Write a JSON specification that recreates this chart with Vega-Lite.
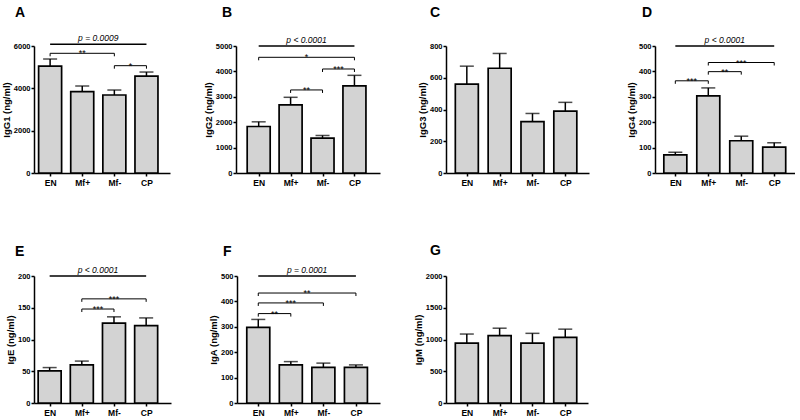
{
  "$schema": "https://vega.github.io/schema/vega-lite/v6.json",
  "padding": {"left": 1, "top": 6, "right": 0, "bottom": 0},
  "background": "white",
  "config": {
    "view": {"stroke": null},
    "axis": {"grid": false, "labelOverlap": false, "domainColor": "black", "domainWidth": 1.5, "tickColor": "black", "tickWidth": 1.5, "tickSize": 3, "labelFont": "Liberation Sans", "labelFontWeight": "bold", "labelColor": "black", "labelFontSize": 7.5, "labelPadding": 1, "titleFont": "Liberation Sans", "titleFontWeight": "bold", "titleFontSize": 9.5, "titleColor": "black", "titlePadding": 2},
    "axisX": {"labelFontSize": 8.5, "labelPadding": 2},
    "title": {"font": "Liberation Sans", "fontSize": 14, "fontWeight": "bold", "anchor": "start", "frame": "group", "color": "black", "baseline": "alphabetic"}
  },
  "datasets": {
    "bars": [
      {"panel": "A", "group": "EN", "idx": 0, "mean": 5050, "upper": 5385},
      {"panel": "A", "group": "Mf+", "idx": 1, "mean": 3840, "upper": 4110},
      {"panel": "A", "group": "Mf-", "idx": 2, "mean": 3685, "upper": 3920},
      {"panel": "A", "group": "CP", "idx": 3, "mean": 4580, "upper": 4770},
      {"panel": "B", "group": "EN", "idx": 0, "mean": 1830, "upper": 2015},
      {"panel": "B", "group": "Mf+", "idx": 1, "mean": 2680, "upper": 2980},
      {"panel": "B", "group": "Mf-", "idx": 2, "mean": 1375, "upper": 1477},
      {"panel": "B", "group": "CP", "idx": 3, "mean": 3430, "upper": 3845},
      {"panel": "C", "group": "EN", "idx": 0, "mean": 560, "upper": 673},
      {"panel": "C", "group": "Mf+", "idx": 1, "mean": 660, "upper": 753},
      {"panel": "C", "group": "Mf-", "idx": 2, "mean": 324, "upper": 375},
      {"panel": "C", "group": "CP", "idx": 3, "mean": 390, "upper": 445},
      {"panel": "D", "group": "EN", "idx": 0, "mean": 71, "upper": 82},
      {"panel": "D", "group": "Mf+", "idx": 1, "mean": 304, "upper": 335},
      {"panel": "D", "group": "Mf-", "idx": 2, "mean": 127, "upper": 145},
      {"panel": "D", "group": "CP", "idx": 3, "mean": 102, "upper": 119},
      {"panel": "E", "group": "EN", "idx": 0, "mean": 50.6, "upper": 55.8},
      {"panel": "E", "group": "Mf+", "idx": 1, "mean": 60, "upper": 66},
      {"panel": "E", "group": "Mf-", "idx": 2, "mean": 125.8, "upper": 135.7},
      {"panel": "E", "group": "CP", "idx": 3, "mean": 122, "upper": 134},
      {"panel": "F", "group": "EN", "idx": 0, "mean": 298, "upper": 329},
      {"panel": "F", "group": "Mf+", "idx": 1, "mean": 150, "upper": 163},
      {"panel": "F", "group": "Mf-", "idx": 2, "mean": 140, "upper": 157},
      {"panel": "F", "group": "CP", "idx": 3, "mean": 140, "upper": 150},
      {"panel": "G", "group": "EN", "idx": 0, "mean": 943, "upper": 1086},
      {"panel": "G", "group": "Mf+", "idx": 1, "mean": 1061, "upper": 1178},
      {"panel": "G", "group": "Mf-", "idx": 2, "mean": 943, "upper": 1097},
      {"panel": "G", "group": "CP", "idx": 3, "mean": 1035, "upper": 1163}
    ],
    "brackets": [
      {"panel": "A", "id": "A0", "kind": "p", "label": "p = 0.0009", "idx": 0, "y": 6080},
      {"panel": "A", "id": "A0", "kind": "p", "label": "p = 0.0009", "idx": 3, "y": 6080},
      {"panel": "A", "id": "A1", "kind": "s", "label": "**", "idx": 0, "y": 5655},
      {"panel": "A", "id": "A1", "kind": "s", "label": "**", "idx": 2, "y": 5655},
      {"panel": "A", "id": "A2", "kind": "s", "label": "*", "idx": 2, "y": 5070},
      {"panel": "A", "id": "A2", "kind": "s", "label": "*", "idx": 3, "y": 5070},
      {"panel": "B", "id": "B0", "kind": "p", "label": "p < 0.0001", "idx": 0, "y": 5000},
      {"panel": "B", "id": "B0", "kind": "p", "label": "p < 0.0001", "idx": 3, "y": 5000},
      {"panel": "B", "id": "B1", "kind": "s", "label": "*", "idx": 0, "y": 4555},
      {"panel": "B", "id": "B1", "kind": "s", "label": "*", "idx": 3, "y": 4555},
      {"panel": "B", "id": "B2", "kind": "s", "label": "***", "idx": 2, "y": 4095},
      {"panel": "B", "id": "B2", "kind": "s", "label": "***", "idx": 3, "y": 4095},
      {"panel": "B", "id": "B3", "kind": "s", "label": "**", "idx": 1, "y": 3270},
      {"panel": "B", "id": "B3", "kind": "s", "label": "**", "idx": 2, "y": 3270},
      {"panel": "D", "id": "D0", "kind": "p", "label": "p < 0.0001", "idx": 0, "y": 500},
      {"panel": "D", "id": "D0", "kind": "p", "label": "p < 0.0001", "idx": 3, "y": 500},
      {"panel": "D", "id": "D1", "kind": "s", "label": "***", "idx": 1, "y": 435},
      {"panel": "D", "id": "D1", "kind": "s", "label": "***", "idx": 3, "y": 435},
      {"panel": "D", "id": "D2", "kind": "s", "label": "**", "idx": 1, "y": 399},
      {"panel": "D", "id": "D2", "kind": "s", "label": "**", "idx": 2, "y": 399},
      {"panel": "D", "id": "D3", "kind": "s", "label": "***", "idx": 0, "y": 363},
      {"panel": "D", "id": "D3", "kind": "s", "label": "***", "idx": 1, "y": 363},
      {"panel": "E", "id": "E0", "kind": "p", "label": "p < 0.0001", "idx": 0, "y": 200},
      {"panel": "E", "id": "E0", "kind": "p", "label": "p < 0.0001", "idx": 3, "y": 200},
      {"panel": "E", "id": "E1", "kind": "s", "label": "***", "idx": 1, "y": 164},
      {"panel": "E", "id": "E1", "kind": "s", "label": "***", "idx": 3, "y": 164},
      {"panel": "E", "id": "E2", "kind": "s", "label": "***", "idx": 1, "y": 148},
      {"panel": "E", "id": "E2", "kind": "s", "label": "***", "idx": 2, "y": 148},
      {"panel": "F", "id": "F0", "kind": "p", "label": "p = 0.0001", "idx": 0, "y": 500},
      {"panel": "F", "id": "F0", "kind": "p", "label": "p = 0.0001", "idx": 3, "y": 500},
      {"panel": "F", "id": "F1", "kind": "s", "label": "**", "idx": 0, "y": 433},
      {"panel": "F", "id": "F1", "kind": "s", "label": "**", "idx": 3, "y": 433},
      {"panel": "F", "id": "F2", "kind": "s", "label": "***", "idx": 0, "y": 394},
      {"panel": "F", "id": "F2", "kind": "s", "label": "***", "idx": 2, "y": 394},
      {"panel": "F", "id": "F3", "kind": "s", "label": "**", "idx": 0, "y": 352},
      {"panel": "F", "id": "F3", "kind": "s", "label": "**", "idx": 1, "y": 352}
    ]
  },
  "bounds": "flush",
  "spacing": 230,
  "vconcat": [
    {
      "bounds": "flush",
      "spacing": 66,
      "hconcat": [
        {
          "width": 136, "height": 127,
          "title": {"text": "A", "dx": -19, "offset": 14},
          "layer": [
            {"data": {"name": "bars"}, "transform": [{"filter": "datum.panel == 'A'"}],
             "layer": [
              {"mark": {"type": "bar", "orient": "vertical", "width": 23, "fill": "#d3d3d3", "stroke": "black", "strokeWidth": 1.7},
               "encoding": {
                 "x": {"field": "idx", "type": "quantitative", "scale": {"domain": [-0.346, 3.577], "nice": false, "zero": false}, "axis": {"values": [0, 1, 2, 3], "tickCount": 20, "labelExpr": "['EN','Mf+','Mf-','CP'][datum.value]", "title": null}},
                 "y": {"field": "mean", "type": "quantitative", "scale": {"domain": [0, 6000], "nice": false}, "axis": {"values": [0, 2000, 4000, 6000], "tickCount": 20, "labelOverlap": false, "labelBound": false, "labelFlush": false, "format": "d", "title": "IgG1 (ng/ml)"}}}},
              {"mark": {"type": "rule", "strokeWidth": 1.5, "color": "black"},
               "encoding": {"x": {"field": "idx", "type": "quantitative"}, "y": {"field": "mean", "type": "quantitative"}, "y2": {"field": "upper"}}},
              {"mark": {"type": "tick", "orient": "horizontal", "size": 14, "thickness": 1.5, "color": "black"},
               "encoding": {"x": {"field": "idx", "type": "quantitative"}, "y": {"field": "upper", "type": "quantitative"}}}
             ]},
            {"data": {"name": "brackets"}, "transform": [{"filter": "datum.panel == 'A'"}],
             "layer": [
              {"transform": [{"filter": "datum.kind == 's'"}],
               "mark": {"type": "rule", "color": "black", "strokeWidth": 1, "y2Offset": 3},
               "encoding": {"x": {"field": "idx", "type": "quantitative"}, "y": {"field": "y", "type": "quantitative"}, "y2": {"field": "y"}}},
              {"transform": [{"aggregate": [{"op": "min", "field": "idx", "as": "x1"}, {"op": "max", "field": "idx", "as": "x2"}, {"op": "mean", "field": "idx", "as": "xm"}], "groupby": ["id", "y", "label", "kind"]}],
               "layer": [
                {"mark": {"type": "rule", "color": "black"},
                 "encoding": {"x": {"field": "x1", "type": "quantitative"}, "x2": {"field": "x2"}, "y": {"field": "y", "type": "quantitative"}, "strokeWidth": {"condition": {"test": "datum.kind == 'p'", "value": 1.5}, "value": 1}}},
                {"transform": [{"filter": "datum.kind == 'p'"}],
                 "mark": {"type": "text", "font": "Liberation Sans", "fontStyle": "italic", "fontSize": 8.5, "baseline": "alphabetic", "dy": -3, "color": "black"},
                 "encoding": {"x": {"field": "xm", "type": "quantitative"}, "y": {"field": "y", "type": "quantitative"}, "text": {"field": "label"}}},
                {"transform": [{"filter": "datum.kind == 's'"}],
                 "mark": {"type": "text", "font": "Liberation Sans", "fontSize": 9, "baseline": "alphabetic", "dy": 3, "color": "black"},
                 "encoding": {"x": {"field": "xm", "type": "quantitative"}, "y": {"field": "y", "type": "quantitative"}, "text": {"field": "label"}}}
               ]}
             ]}
          ]
        },
        {
          "width": 144, "height": 127,
          "title": {"text": "B", "dx": -14, "offset": 15.7},
          "layer": [
            {"data": {"name": "bars"}, "transform": [{"filter": "datum.panel == 'B'"}],
             "layer": [
              {"mark": {"type": "bar", "orient": "vertical", "width": 23, "fill": "#d3d3d3", "stroke": "black", "strokeWidth": 1.7},
               "encoding": {
                 "x": {"field": "idx", "type": "quantitative", "scale": {"domain": [-0.554, 3.644], "nice": false, "zero": false}, "axis": {"values": [0, 1, 2, 3], "tickCount": 20, "labelExpr": "['EN','Mf+','Mf-','CP'][datum.value]", "title": null}},
                 "y": {"field": "mean", "type": "quantitative", "scale": {"domain": [0, 5000], "nice": false}, "axis": {"values": [0, 1000, 2000, 3000, 4000, 5000], "tickCount": 20, "format": "d", "title": "IgG2 (ng/ml)"}}}},
              {"mark": {"type": "rule", "strokeWidth": 1.5, "color": "black"},
               "encoding": {"x": {"field": "idx", "type": "quantitative"}, "y": {"field": "mean", "type": "quantitative"}, "y2": {"field": "upper"}}},
              {"mark": {"type": "tick", "orient": "horizontal", "size": 14, "thickness": 1.5, "color": "black"},
               "encoding": {"x": {"field": "idx", "type": "quantitative"}, "y": {"field": "upper", "type": "quantitative"}}}
             ]},
            {"data": {"name": "brackets"}, "transform": [{"filter": "datum.panel == 'B'"}],
             "layer": [
              {"transform": [{"filter": "datum.kind == 's'"}],
               "mark": {"type": "rule", "color": "black", "strokeWidth": 1, "y2Offset": 3},
               "encoding": {"x": {"field": "idx", "type": "quantitative"}, "y": {"field": "y", "type": "quantitative"}, "y2": {"field": "y"}}},
              {"transform": [{"aggregate": [{"op": "min", "field": "idx", "as": "x1"}, {"op": "max", "field": "idx", "as": "x2"}, {"op": "mean", "field": "idx", "as": "xm"}], "groupby": ["id", "y", "label", "kind"]}],
               "layer": [
                {"mark": {"type": "rule", "color": "black"},
                 "encoding": {"x": {"field": "x1", "type": "quantitative"}, "x2": {"field": "x2"}, "y": {"field": "y", "type": "quantitative"}, "strokeWidth": {"condition": {"test": "datum.kind == 'p'", "value": 1.5}, "value": 1}}},
                {"transform": [{"filter": "datum.kind == 'p'"}],
                 "mark": {"type": "text", "font": "Liberation Sans", "fontStyle": "italic", "fontSize": 8.5, "baseline": "alphabetic", "dy": -3, "color": "black"},
                 "encoding": {"x": {"field": "xm", "type": "quantitative"}, "y": {"field": "y", "type": "quantitative"}, "text": {"field": "label"}}},
                {"transform": [{"filter": "datum.kind == 's'"}],
                 "mark": {"type": "text", "font": "Liberation Sans", "fontSize": 9, "baseline": "alphabetic", "dy": 3, "color": "black"},
                 "encoding": {"x": {"field": "xm", "type": "quantitative"}, "y": {"field": "y", "type": "quantitative"}, "text": {"field": "label"}}}
               ]}
             ]}
          ]
        },
        {
          "width": 143, "height": 127,
          "title": {"text": "C", "dx": -16, "offset": 22},
          "data": {"name": "bars"}, "transform": [{"filter": "datum.panel == 'C'"}],
          "layer": [
            {"mark": {"type": "bar", "orient": "vertical", "width": 23, "fill": "#d3d3d3", "stroke": "black", "strokeWidth": 1.7},
             "encoding": {
               "x": {"field": "idx", "type": "quantitative", "scale": {"domain": [-0.482, 3.569], "nice": false, "zero": false}, "axis": {"values": [0, 1, 2, 3], "tickCount": 20, "labelExpr": "['EN','Mf+','Mf-','CP'][datum.value]", "title": null}},
               "y": {"field": "mean", "type": "quantitative", "scale": {"domain": [0, 800], "nice": false}, "axis": {"values": [0, 200, 400, 600, 800], "tickCount": 20, "format": "d", "title": "IgG3 (ng/ml)"}}}},
            {"mark": {"type": "rule", "strokeWidth": 1.5, "color": "black"},
             "encoding": {"x": {"field": "idx", "type": "quantitative"}, "y": {"field": "mean", "type": "quantitative"}, "y2": {"field": "upper"}}},
            {"mark": {"type": "tick", "orient": "horizontal", "size": 14, "thickness": 1.5, "color": "black"},
             "encoding": {"x": {"field": "idx", "type": "quantitative"}, "y": {"field": "upper", "type": "quantitative"}}}
          ]
        },
        {
          "width": 140, "height": 127,
          "title": {"text": "D", "dx": -13, "offset": 15.7},
          "layer": [
            {"data": {"name": "bars"}, "transform": [{"filter": "datum.panel == 'D'"}],
             "layer": [
              {"mark": {"type": "bar", "orient": "vertical", "width": 23, "fill": "#d3d3d3", "stroke": "black", "strokeWidth": 1.7},
               "encoding": {
                 "x": {"field": "idx", "type": "quantitative", "scale": {"domain": [-0.465, 3.479], "nice": false, "zero": false}, "axis": {"values": [0, 1, 2, 3], "tickCount": 20, "labelExpr": "['EN','Mf+','Mf-','CP'][datum.value]", "title": null}},
                 "y": {"field": "mean", "type": "quantitative", "scale": {"domain": [0, 500], "nice": false}, "axis": {"values": [0, 100, 200, 300, 400, 500], "tickCount": 20, "format": "d", "title": "IgG4 (ng/ml)"}}}},
              {"mark": {"type": "rule", "strokeWidth": 1.5, "color": "black"},
               "encoding": {"x": {"field": "idx", "type": "quantitative"}, "y": {"field": "mean", "type": "quantitative"}, "y2": {"field": "upper"}}},
              {"mark": {"type": "tick", "orient": "horizontal", "size": 14, "thickness": 1.5, "color": "black"},
               "encoding": {"x": {"field": "idx", "type": "quantitative"}, "y": {"field": "upper", "type": "quantitative"}}}
             ]},
            {"data": {"name": "brackets"}, "transform": [{"filter": "datum.panel == 'D'"}],
             "layer": [
              {"transform": [{"filter": "datum.kind == 's'"}],
               "mark": {"type": "rule", "color": "black", "strokeWidth": 1, "y2Offset": 3},
               "encoding": {"x": {"field": "idx", "type": "quantitative"}, "y": {"field": "y", "type": "quantitative"}, "y2": {"field": "y"}}},
              {"transform": [{"aggregate": [{"op": "min", "field": "idx", "as": "x1"}, {"op": "max", "field": "idx", "as": "x2"}, {"op": "mean", "field": "idx", "as": "xm"}], "groupby": ["id", "y", "label", "kind"]}],
               "layer": [
                {"mark": {"type": "rule", "color": "black"},
                 "encoding": {"x": {"field": "x1", "type": "quantitative"}, "x2": {"field": "x2"}, "y": {"field": "y", "type": "quantitative"}, "strokeWidth": {"condition": {"test": "datum.kind == 'p'", "value": 1.5}, "value": 1}}},
                {"transform": [{"filter": "datum.kind == 'p'"}],
                 "mark": {"type": "text", "font": "Liberation Sans", "fontStyle": "italic", "fontSize": 8.5, "baseline": "alphabetic", "dy": -3, "color": "black"},
                 "encoding": {"x": {"field": "xm", "type": "quantitative"}, "y": {"field": "y", "type": "quantitative"}, "text": {"field": "label"}}},
                {"transform": [{"filter": "datum.kind == 's'"}],
                 "mark": {"type": "text", "font": "Liberation Sans", "fontSize": 9, "baseline": "alphabetic", "dy": 3, "color": "black"},
                 "encoding": {"x": {"field": "xm", "type": "quantitative"}, "y": {"field": "y", "type": "quantitative"}, "text": {"field": "label"}}}
               ]}
             ]}
          ]
        }
      ]
    },
    {
      "bounds": "flush",
      "spacing": 66,
      "hconcat": [
        {
          "width": 137, "height": 127,
          "title": {"text": "E", "dx": -19, "offset": 7.4},
          "layer": [
            {"data": {"name": "bars"}, "transform": [{"filter": "datum.panel == 'E'"}],
             "layer": [
              {"mark": {"type": "bar", "orient": "vertical", "width": 23, "fill": "#d3d3d3", "stroke": "black", "strokeWidth": 1.7},
               "encoding": {
                 "x": {"field": "idx", "type": "quantitative", "scale": {"domain": [-0.331, 3.617], "nice": false, "zero": false}, "axis": {"values": [0, 1, 2, 3], "tickCount": 20, "labelExpr": "['EN','Mf+','Mf-','CP'][datum.value]", "title": null}},
                 "y": {"field": "mean", "type": "quantitative", "scale": {"domain": [0, 200], "nice": false}, "axis": {"values": [0, 50, 100, 150, 200], "tickCount": 20, "format": "d", "title": "IgE (ng/ml)"}}}},
              {"mark": {"type": "rule", "strokeWidth": 1.5, "color": "black"},
               "encoding": {"x": {"field": "idx", "type": "quantitative"}, "y": {"field": "mean", "type": "quantitative"}, "y2": {"field": "upper"}}},
              {"mark": {"type": "tick", "orient": "horizontal", "size": 14, "thickness": 1.5, "color": "black"},
               "encoding": {"x": {"field": "idx", "type": "quantitative"}, "y": {"field": "upper", "type": "quantitative"}}}
             ]},
            {"data": {"name": "brackets"}, "transform": [{"filter": "datum.panel == 'E'"}],
             "layer": [
              {"transform": [{"filter": "datum.kind == 's'"}],
               "mark": {"type": "rule", "color": "black", "strokeWidth": 1, "y2Offset": 3},
               "encoding": {"x": {"field": "idx", "type": "quantitative"}, "y": {"field": "y", "type": "quantitative"}, "y2": {"field": "y"}}},
              {"transform": [{"aggregate": [{"op": "min", "field": "idx", "as": "x1"}, {"op": "max", "field": "idx", "as": "x2"}, {"op": "mean", "field": "idx", "as": "xm"}], "groupby": ["id", "y", "label", "kind"]}],
               "layer": [
                {"mark": {"type": "rule", "color": "black"},
                 "encoding": {"x": {"field": "x1", "type": "quantitative"}, "x2": {"field": "x2"}, "y": {"field": "y", "type": "quantitative"}, "strokeWidth": {"condition": {"test": "datum.kind == 'p'", "value": 1.5}, "value": 1}}},
                {"transform": [{"filter": "datum.kind == 'p'"}],
                 "mark": {"type": "text", "font": "Liberation Sans", "fontStyle": "italic", "fontSize": 8.5, "baseline": "alphabetic", "dy": -3, "color": "black"},
                 "encoding": {"x": {"field": "xm", "type": "quantitative"}, "y": {"field": "y", "type": "quantitative"}, "text": {"field": "label"}}},
                {"transform": [{"filter": "datum.kind == 's'"}],
                 "mark": {"type": "text", "font": "Liberation Sans", "fontSize": 9, "baseline": "alphabetic", "dy": 3, "color": "black"},
                 "encoding": {"x": {"field": "xm", "type": "quantitative"}, "y": {"field": "y", "type": "quantitative"}, "text": {"field": "label"}}}
               ]}
             ]}
          ]
        },
        {
          "width": 143, "height": 127,
          "title": {"text": "F", "dx": -14, "offset": 7.4},
          "layer": [
            {"data": {"name": "bars"}, "transform": [{"filter": "datum.panel == 'F'"}],
             "layer": [
              {"mark": {"type": "bar", "orient": "vertical", "width": 23, "fill": "#d3d3d3", "stroke": "black", "strokeWidth": 1.7},
               "encoding": {
                 "x": {"field": "idx", "type": "quantitative", "scale": {"domain": [-0.5, 3.586], "nice": false, "zero": false}, "axis": {"values": [0, 1, 2, 3], "tickCount": 20, "labelExpr": "['EN','Mf+','Mf-','CP'][datum.value]", "title": null}},
                 "y": {"field": "mean", "type": "quantitative", "scale": {"domain": [0, 500], "nice": false}, "axis": {"values": [0, 100, 200, 300, 400, 500], "tickCount": 20, "format": "d", "title": "IgA (ng/ml)"}}}},
              {"mark": {"type": "rule", "strokeWidth": 1.5, "color": "black"},
               "encoding": {"x": {"field": "idx", "type": "quantitative"}, "y": {"field": "mean", "type": "quantitative"}, "y2": {"field": "upper"}}},
              {"mark": {"type": "tick", "orient": "horizontal", "size": 14, "thickness": 1.5, "color": "black"},
               "encoding": {"x": {"field": "idx", "type": "quantitative"}, "y": {"field": "upper", "type": "quantitative"}}}
             ]},
            {"data": {"name": "brackets"}, "transform": [{"filter": "datum.panel == 'F'"}],
             "layer": [
              {"transform": [{"filter": "datum.kind == 's'"}],
               "mark": {"type": "rule", "color": "black", "strokeWidth": 1, "y2Offset": 3},
               "encoding": {"x": {"field": "idx", "type": "quantitative"}, "y": {"field": "y", "type": "quantitative"}, "y2": {"field": "y"}}},
              {"transform": [{"aggregate": [{"op": "min", "field": "idx", "as": "x1"}, {"op": "max", "field": "idx", "as": "x2"}, {"op": "mean", "field": "idx", "as": "xm"}], "groupby": ["id", "y", "label", "kind"]}],
               "layer": [
                {"mark": {"type": "rule", "color": "black"},
                 "encoding": {"x": {"field": "x1", "type": "quantitative"}, "x2": {"field": "x2"}, "y": {"field": "y", "type": "quantitative"}, "strokeWidth": {"condition": {"test": "datum.kind == 'p'", "value": 1.5}, "value": 1}}},
                {"transform": [{"filter": "datum.kind == 'p'"}],
                 "mark": {"type": "text", "font": "Liberation Sans", "fontStyle": "italic", "fontSize": 8.5, "baseline": "alphabetic", "dy": -3, "color": "black"},
                 "encoding": {"x": {"field": "xm", "type": "quantitative"}, "y": {"field": "y", "type": "quantitative"}, "text": {"field": "label"}}},
                {"transform": [{"filter": "datum.kind == 's'"}],
                 "mark": {"type": "text", "font": "Liberation Sans", "fontSize": 9, "baseline": "alphabetic", "dy": 3, "color": "black"},
                 "encoding": {"x": {"field": "xm", "type": "quantitative"}, "y": {"field": "y", "type": "quantitative"}, "text": {"field": "label"}}}
               ]}
             ]}
          ]
        },
        {
          "width": 142, "height": 127,
          "title": {"text": "G", "dx": -16, "offset": 13.7},
          "data": {"name": "bars"}, "transform": [{"filter": "datum.panel == 'G'"}],
          "layer": [
            {"mark": {"type": "bar", "orient": "vertical", "width": 23, "fill": "#d3d3d3", "stroke": "black", "strokeWidth": 1.7},
             "encoding": {
               "x": {"field": "idx", "type": "quantitative", "scale": {"domain": [-0.482, 3.541], "nice": false, "zero": false}, "axis": {"values": [0, 1, 2, 3], "tickCount": 20, "labelExpr": "['EN','Mf+','Mf-','CP'][datum.value]", "title": null}},
               "y": {"field": "mean", "type": "quantitative", "scale": {"domain": [0, 2000], "nice": false}, "axis": {"values": [0, 500, 1000, 1500, 2000], "tickCount": 20, "format": "d", "title": "IgM (ng/ml)"}}}},
            {"mark": {"type": "rule", "strokeWidth": 1.5, "color": "black"},
             "encoding": {"x": {"field": "idx", "type": "quantitative"}, "y": {"field": "mean", "type": "quantitative"}, "y2": {"field": "upper"}}},
            {"mark": {"type": "tick", "orient": "horizontal", "size": 14, "thickness": 1.5, "color": "black"},
             "encoding": {"x": {"field": "idx", "type": "quantitative"}, "y": {"field": "upper", "type": "quantitative"}}}
          ]
        }
      ]
    }
  ]
}
